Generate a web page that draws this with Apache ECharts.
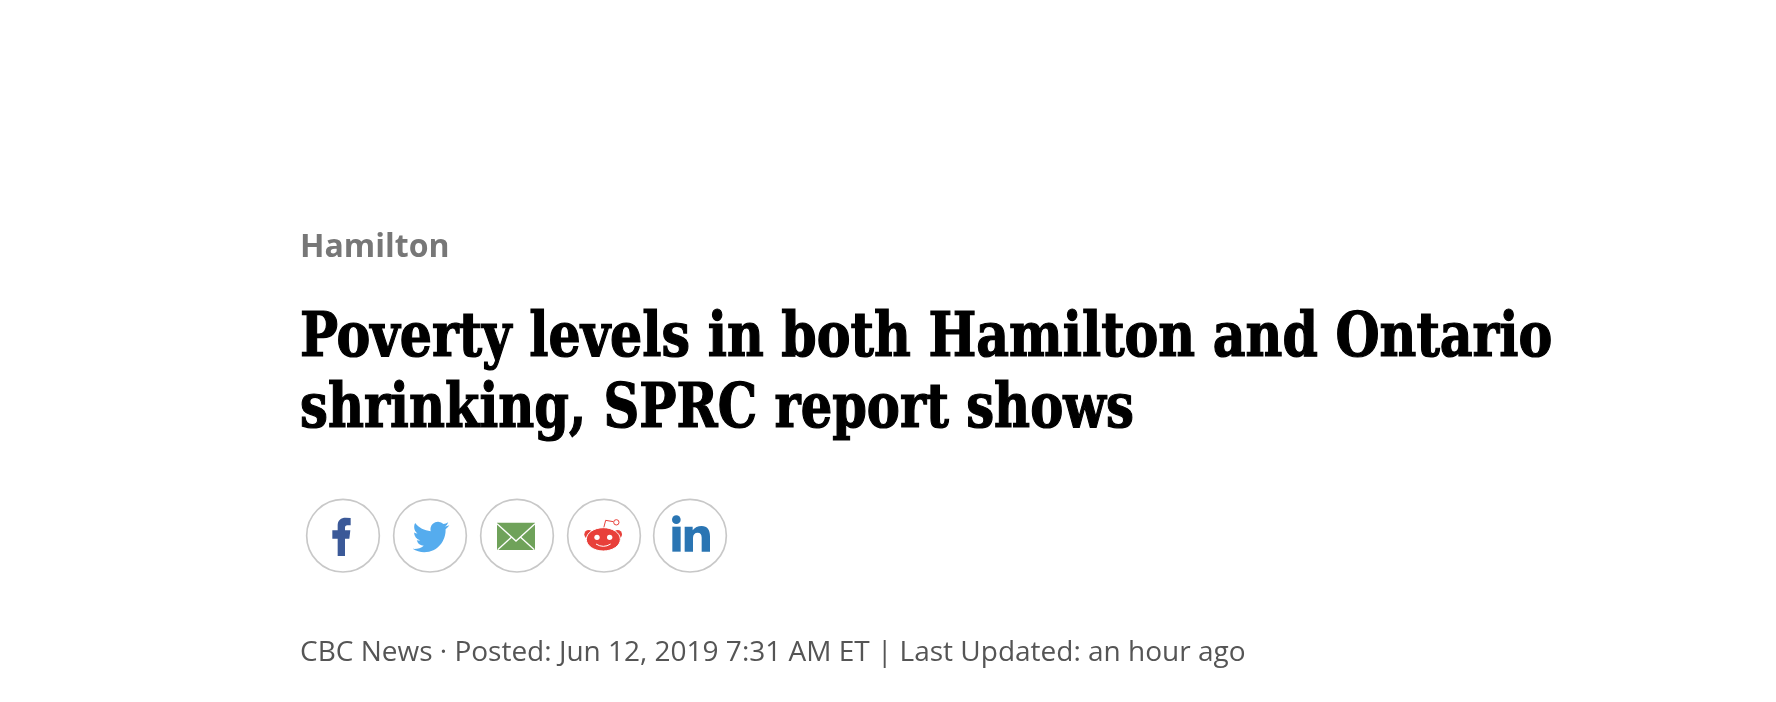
<!DOCTYPE html>
<html>
<head>
<meta charset="utf-8">
<title>Poverty levels in both Hamilton and Ontario shrinking</title>
<script src="https://cdn.jsdelivr.net/npm/echarts@6/dist/echarts.min.js"></script>
<style>
    html, body { margin: 0; padding: 0; background: #fff; }
    #main { width: 1776px; height: 702px; }
</style>
</head>
<body>
<div id="main"></div>
<script>
/* ===================== text ===================== */
var sectionLabel = 'Hamilton';
var headlineLines = ['Poverty levels in both Hamilton and Ontario', 'shrinking, SPRC report shows'];
var bylineText = 'CBC News \u00b7 Posted: Jun 12, 2019 7:31 AM ET | Last Updated: an hour ago';
var shareIcons = ['facebook', 'twitter', 'email', 'reddit', 'linkedin'];

/* ===================== colors ===================== */
var RING = '#c8c8c8';
var FB = '#3b5998', TW = '#55acee', MAIL = '#6fa25a', RED = '#e8403a', LI = '#2a75b3';

/* icon shapes are written in a 3x grid, the group scales them back down */
var birdPath = 'M23.953 4.57a10 10 0 0 1-2.825.775 4.958 4.958 0 0 0 2.163-2.723c-.951.555-2.005.959-3.127 1.184a4.92 4.92 0 0 0-8.384 4.482C7.69 8.095 4.067 6.13 1.64 3.162a4.822 4.822 0 0 0-.666 2.475c0 1.71.87 3.213 2.188 4.096a4.904 4.904 0 0 1-2.228-.616v.06a4.923 4.923 0 0 0 3.946 4.827 4.996 4.996 0 0 1-2.212.085 4.936 4.936 0 0 0 4.604 3.417 9.867 9.867 0 0 1-6.102 2.105c-.39 0-.779-.023-1.17-.067a13.995 13.995 0 0 0 7.557 2.209c9.053 0 13.998-7.496 13.998-13.985 0-.21 0-.42-.015-.63A9.935 9.935 0 0 0 24 4.59z';
var fPath = 'M143 225V173H127V148H143V133C143 118 153 110 167 110L182 111V133H172C167 133 165 136 165 141V148H181L178 173H165V225Z';
var nPath = 'M1184 137H1208V148C1214 139 1224 135 1235 135C1252 135 1260 147 1260 166V212H1235V170C1235 160 1231 155 1223 155C1214 155 1209 161 1209 171V212H1184Z';

function pathEl(d, x, y, w, h, color) {
    return {
        type: 'path',
        shape: { pathData: d, x: x, y: y, width: w, height: h, layout: 'cover' },
        style: { fill: color }
    };
}
function circleEl(cx, cy, r, style) {
    return { type: 'circle', shape: { cx: cx, cy: cy, r: r }, style: style };
}
function lineEl(points, color, width) {
    return {
        type: 'polyline',
        shape: { points: points },
        style: { fill: null, stroke: color, lineWidth: width }
    };
}

var iconParts = {
    facebook: function () {
        return [pathEl(fPath, 127, 110, 55, 115, FB)];
    },
    twitter: function () {
        return [pathEl(birdPath, 368, 122, 110, 92, TW)];
    },
    email: function () {
        return [
            { type: 'rect', shape: { x: 621, y: 125, width: 114, height: 82 }, style: { fill: MAIL } },
            lineEl([[621, 128], [678, 180], [735, 128]], '#fff', 4),
            lineEl([[623, 206], [665, 168]], '#fff', 4),
            lineEl([[733, 206], [691, 168]], '#fff', 4)
        ];
    },
    reddit: function () {
        return [
            lineEl([[940, 145], [947, 118], [970, 122]], RED, 3),
            circleEl(979, 124, 8, { fill: '#fff', stroke: RED, lineWidth: 3 }),
            circleEl(896, 160, 13, { fill: RED }),
            circleEl(983, 160, 13, { fill: RED }),
            { type: 'ellipse', shape: { cx: 940, cy: 175, rx: 51, ry: 35 }, style: { fill: RED, stroke: '#fff', lineWidth: 3 } },
            circleEl(921, 169, 8, { fill: '#fff' }),
            circleEl(959, 169, 8, { fill: '#fff' }),
            { type: 'path', shape: { pathData: 'M918 189Q940 203 962 189', x: 918, y: 189, width: 44, height: 7, layout: 'cover' }, style: { fill: null, stroke: '#fff', lineWidth: 3 } }
        ];
    },
    linkedin: function () {
        return [
            circleEl(1159, 116, 13, { fill: LI }),
            { type: 'rect', shape: { x: 1147, y: 137, width: 25, height: 75 }, style: { fill: LI } },
            pathEl(nPath, 1184, 135, 76, 77, LI)
        ];
    }
};
var ringCentersX = [159, 420, 681, 942, 1200];

/* ===================== chart ===================== */
var chart = echarts.init(document.getElementById('main'), null, { renderer: 'canvas' });

function textEl(text, x, y, font, color, sx, heavy) {
    return {
        type: 'text',
        x: x, y: y,
        scaleX: sx || 1,
        silent: true,
        style: {
            text: text, font: font, fill: color,
            stroke: heavy ? color : null, lineWidth: heavy || 0,
            textAlign: 'left', textVerticalAlign: 'top'
        }
    };
}

var headFont = 'bold 62px "DejaVu Serif Condensed", "DejaVu Serif"';

chart.setOption({
    backgroundColor: '#fff',
    animation: false,
    graphic: {
        elements: [
            textEl(sectionLabel, 300, 232, 'bold 32px "Open Sans"', '#777777'),
            textEl(headlineLines[0], 300, 309, headFont, '#000000', 0.908, 1.2),
            textEl(headlineLines[1], 300, 380, headFont, '#000000', 0.889, 1.2),
            textEl(bylineText, 300, 639, '28px "Open Sans"', '#555555')
        ]
    },
    series: [{
        type: 'custom',
        coordinateSystem: 'none',
        silent: true,
        data: shareIcons,
        renderItem: function (params) {
            var name = shareIcons[params.dataIndex];
            var ring = circleEl(ringCentersX[params.dataIndex], 164, 109, { fill: '#fff', stroke: RING, lineWidth: 5 });
            return {
                type: 'group',
                x: 290, y: 481,
                scaleX: 1 / 3, scaleY: 1 / 3,
                children: [ring].concat(iconParts[name]())
            };
        }
    }]
});
</script>
</body>
</html>
